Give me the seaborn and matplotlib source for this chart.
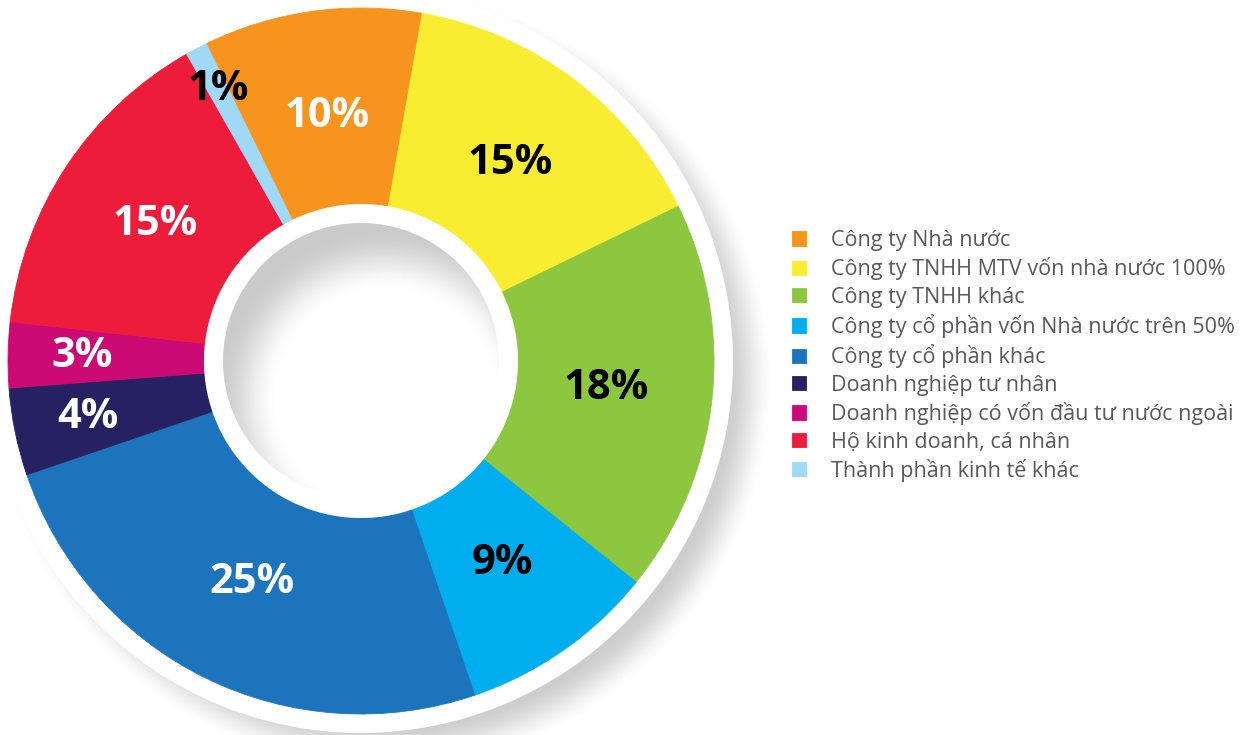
import numpy as np
import matplotlib
matplotlib.use("Agg")
import matplotlib.pyplot as plt
import seaborn as sns
from matplotlib.patches import Circle

# Data
categories = [
    "Công ty Nhà nước",
    "Công ty TNHH MTV vốn nhà nước 100%",
    "Công ty TNHH khác",
    "Công ty cổ phần vốn Nhà nước trên 50%",
    "Công ty cổ phần khác",
    "Doanh nghiệp tư nhân",
    "Doanh nghiệp có vốn đầu tư nước ngoài",
    "Hộ kinh doanh, cá nhân",
    "Thành phần kinh tế khác",
]
shares = [10, 15, 18, 9, 25, 4, 3, 15, 1]

# Styles
colors = ["#F7941D", "#F9ED32", "#8DC63F", "#00AEEF", "#1C75BC",
          "#262262", "#CC0A76", "#ED1C3A", "#9FD9F6"]
label_colors = ["white", "black", "black", "black", "white",
                "white", "white", "white", "black"]

sns.set_style("white")
plt.rcParams['font.family'] = ['Open Sans', 'DejaVu Sans']

W, H = 1245, 735
fig = plt.figure(figsize=(W / 100, H / 100), dpi=100)
ax = fig.add_axes([0, 0, 1, 1])

cx, cy = 361, H - 361
r_out, r_in = 353, 157
r_white = 372
r_hole = 138

# outer drop shadow, offset to the lower right
yy, xx = np.mgrid[0:H, 0:W]
yy = H - yy - 0.5
xx = xx + 0.5
d = np.hypot(xx - (cx + 22), yy - (cy - 20))
d_a, d_b = r_white - 28, r_white + 20
t = np.clip((d - d_a) / (d_b - d_a), 0, 1)
sh = 0.2 * (1 - t * t * (3 - 2 * t))
rgba = np.zeros((H, W, 4))
rgba[..., 3] = sh
ax.imshow(rgba, extent=(0, W, 0, H), origin="upper", zorder=0, interpolation="bilinear")

ax.add_patch(Circle((cx, cy), r_white, facecolor="white", edgecolor="none", zorder=1))

wedges, texts, autotexts = ax.pie(
    shares, colors=colors, startangle=116, counterclock=False,
    radius=r_out, center=(cx, cy), autopct="%d%%", pctdistance=0.70,
    wedgeprops=dict(width=r_out - r_in, linewidth=0.6, zorder=2),
    textprops=dict(fontsize=30, fontweight="bold"),
)
for w, c in zip(wedges, colors):
    w.set_edgecolor(c)
    w.set_zorder(2)

for w, t_, lc, v in zip(wedges, autotexts, label_colors, shares):
    t_.set_color(lc)
    t_.set_zorder(5)
    mid = np.deg2rad((w.theta1 + w.theta2) / 2)
    if v <= 1:
        dist = 0.87
    elif v <= 5:
        dist = 0.79
    else:
        dist = 0.70
    t_.set_position((cx + dist * r_out * np.cos(mid), cy + dist * r_out * np.sin(mid)))

# inner hole with inner shadow
ax.add_patch(Circle((cx, cy), r_in, facecolor="white", edgecolor="none", zorder=3))
x0, x1 = cx - r_hole - 2, cx + r_hole + 2
y0, y1 = cy - r_hole - 2, cy + r_hole + 2
n = int(x1 - x0)
hy, hx = np.mgrid[0:n, 0:n]
hx = x0 + hx + 0.5
hy = y1 - hy - 0.5
dh = np.hypot(hx - (cx + 25), hy - (cy - 38))
bh = 32
th = np.clip((dh - (r_hole - bh)) / (2 * bh), 0, 1)
ish = 0.21 * th * th * (3 - 2 * th)
rgba2 = np.zeros((n, n, 4))
rgba2[..., 3] = ish
hole_clip = Circle((cx, cy), r_hole, transform=ax.transData)
im2 = ax.imshow(rgba2, extent=(x0, x1, y0, y1), origin="upper", zorder=4, interpolation="bilinear")
im2.set_clip_path(hole_clip)

leg = ax.legend(
    wedges, categories, loc="upper left",
    bbox_to_anchor=(792 / W, 1 - 230 / H), bbox_transform=fig.transFigure,
    frameon=False, fontsize=15.5, handlelength=0.65, handleheight=0.65,
    handletextpad=1.15, labelspacing=0.295, borderpad=0, borderaxespad=0,
)
for txt in leg.get_texts():
    txt.set_color("#58595B")

ax.set_xlim(0, W)
ax.set_ylim(0, H)
ax.set_aspect("equal")
ax.axis("off")

fig.savefig("out.png", dpi=100)
